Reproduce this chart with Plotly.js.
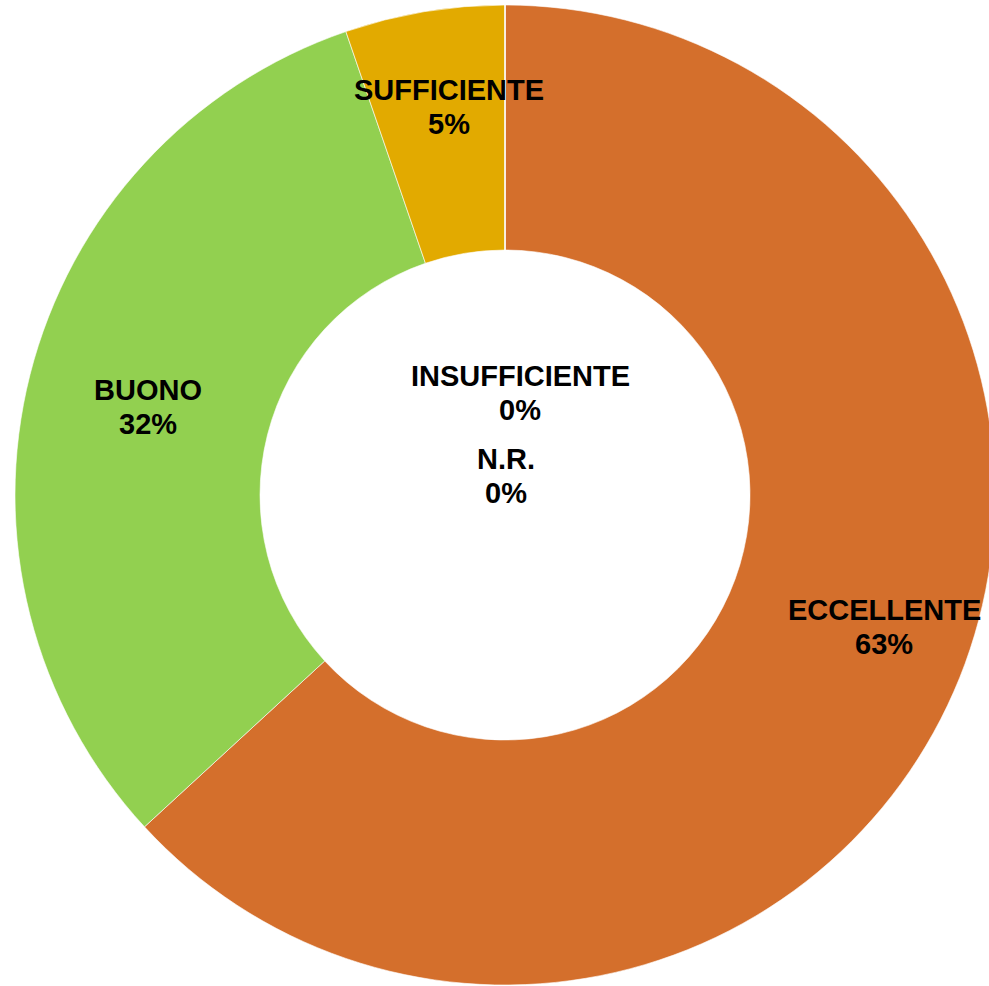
<!DOCTYPE html>
<html>
<head>
<meta charset="utf-8">
<script src="https://cdn.plot.ly/plotly-3.0.1.min.js"></script>
<style>
html,body{margin:0;padding:0;overflow:hidden;background:#fff;}
#chart{width:995px;height:986px;}
</style>
</head>
<body>
<div id="chart"></div>
<script>
// Data
var categories = ["ECCELLENTE", "BUONO", "SUFFICIENTE", "INSUFFICIENTE", "N.R."];
var values = [12, 6, 1, 0, 0];
var colors = ["#D46F2C", "#92D050", "#E2AA00", "#C00000", "#7F7F7F"];

// Label placement (pixel centres of the label blocks)
var labelPos = [[884, 627], [148, 407], [449, 107], [520, 393], [506, 476]];
var lineGap = 34;

var total = values.reduce(function(a, b){ return a + b; }, 0);
var W = 995, H = 986, mL = 15, mR = 0, mT = 5, mB = 1;
var pw = W - mL - mR, ph = H - mT - mB;

function ann(text, px, py){
  return {
    xref: "paper", yref: "paper",
    x: (px - mL) / pw,
    y: (H - mB - py) / ph,
    xanchor: "center", yanchor: "middle",
    showarrow: false,
    text: "<b>" + text + "</b>",
    font: {family: "Liberation Sans, Arial, sans-serif", size: 29, color: "#000"},
    align: "center"
  };
}

var annotations = [];
categories.forEach(function(c, i){
  var pct = Math.round(values[i] / total * 100);
  annotations.push(ann(c, labelPos[i][0], labelPos[i][1] - lineGap / 2));
  annotations.push(ann(pct + "%", labelPos[i][0], labelPos[i][1] + lineGap / 2));
});

var trace = {
  type: "pie",
  labels: categories,
  values: values,
  hole: 0.5,
  sort: false,
  direction: "clockwise",
  rotation: 0,
  textinfo: "none",
  hoverinfo: "label+percent",
  marker: {colors: colors, line: {color: "#FFFFFF", width: 0.6}},
  showlegend: false,
  domain: {x: [0, 1], y: [0, 1]}
};

var layout = {
  width: W, height: H,
  margin: {l: mL, r: mR, t: mT, b: mB, pad: 0},
  paper_bgcolor: "#FFFFFF",
  plot_bgcolor: "#FFFFFF",
  showlegend: false,
  annotations: annotations
};

Plotly.newPlot("chart", [trace], layout, {staticPlot: true, displayModeBar: false});
</script>
</body>
</html>
